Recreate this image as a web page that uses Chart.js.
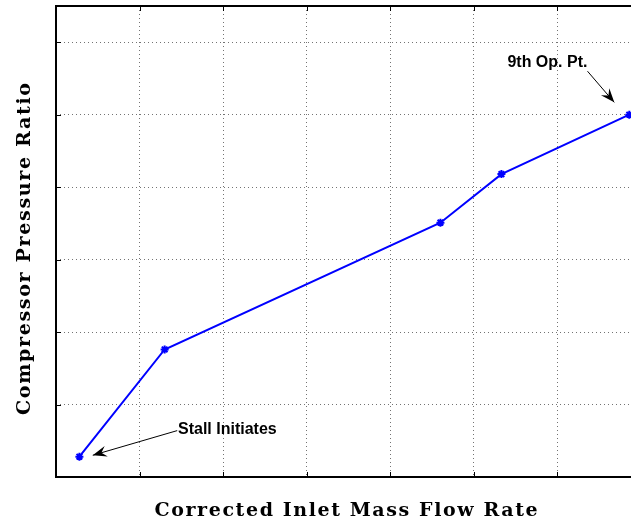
<!DOCTYPE html>
<html>
<head>
<meta charset="utf-8">
<script src="https://cdn.jsdelivr.net/npm/chart.js@4.4.1/dist/chart.umd.min.js"></script>
<style>
  html, body { margin: 0; padding: 0; background: #fff; overflow: hidden; }
  #wrap { width: 647px; height: 523px; }
</style>
</head>
<body>
<div id="wrap"><canvas id="compressorChart" width="647" height="523"></canvas></div>
<script>
// operating line of the compressor, from stall up to the 9th operating point
var flowRate = [0.28, 1.30, 4.60, 5.33, 6.86];
var pressureRatio = [0.28, 1.76, 3.51, 4.18, 5.00];

// callouts: label, label anchor (data units), arrow start, arrow tip
var noteText = ['Stall Initiates', '9th Op. Pt.'];
var noteAt = [[1.46, 0.65], [5.88, 5.72]];
var noteAlign = ['left', 'center'];
var arrowFrom = [[1.45, 0.64], [6.36, 5.60]];
var arrowTo = [[0.44, 0.30], [6.68, 5.17]];

var xTitle = 'Corrected Inlet Mass Flow Rate';
var yTitle = 'Compressor Pressure Ratio';

function drawArrowHead(ctx, x1, y1, x2, y2) {
    var ang = Math.atan2(y2 - y1, x2 - x1);
    var len = 14, half = 5.5, back = 9;
    ctx.save();
    ctx.translate(x2, y2);
    ctx.rotate(ang);
    ctx.beginPath();
    ctx.moveTo(0, 0);
    ctx.lineTo(-len, -half);
    ctx.lineTo(-back, 0);
    ctx.lineTo(-len, half);
    ctx.closePath();
    ctx.fillStyle = '#000';
    ctx.fill();
    ctx.restore();
}

// spread a title's letters so the whole string spans the given width
function spacedText(ctx, text, x, y, width) {
    ctx.letterSpacing = '0px';
    var w = ctx.measureText(text).width;
    ctx.letterSpacing = ((width - w) / (text.length - 1)).toFixed(2) + 'px';
    ctx.textAlign = 'left';
    ctx.fillText(text, x - width / 2, y);
    ctx.letterSpacing = '0px';
}

var framePlugin = {
    id: 'frame',
    afterDraw: function(chart) {
        var ctx = chart.ctx;
        var a = chart.chartArea;
        var xs = chart.scales.x, ys = chart.scales.y;

        ctx.save();
        // box edges (right edge runs past the canvas)
        ctx.strokeStyle = '#000';
        ctx.lineWidth = 2;
        ctx.beginPath();
        ctx.moveTo(a.right, a.top);
        ctx.lineTo(a.left, a.top);
        ctx.lineTo(a.left, a.bottom);
        ctx.lineTo(a.right, a.bottom);
        ctx.stroke();

        // inward tick marks
        ctx.lineWidth = 1;
        ctx.beginPath();
        xs.ticks.forEach(function(t) {
            var px = Math.round(xs.getPixelForValue(t.value)) + 0.5;
            ctx.moveTo(px, a.bottom); ctx.lineTo(px, a.bottom - 5);
            ctx.moveTo(px, a.top); ctx.lineTo(px, a.top + 5);
        });
        ys.ticks.forEach(function(t) {
            var py = Math.round(ys.getPixelForValue(t.value)) + 0.5;
            ctx.moveTo(a.left, py); ctx.lineTo(a.left + 5, py);
        });
        ctx.stroke();

        // callouts
        ctx.font = 'bold 16px "Liberation Sans", Arial, sans-serif';
        ctx.fillStyle = '#000';
        ctx.textBaseline = 'middle';
        for (var i = 0; i < noteText.length; i++) {
            ctx.textAlign = noteAlign[i];
            ctx.fillText(noteText[i], xs.getPixelForValue(noteAt[i][0]), ys.getPixelForValue(noteAt[i][1]));
            var x1 = xs.getPixelForValue(arrowFrom[i][0]), y1 = ys.getPixelForValue(arrowFrom[i][1]);
            var x2 = xs.getPixelForValue(arrowTo[i][0]), y2 = ys.getPixelForValue(arrowTo[i][1]);
            ctx.strokeStyle = '#000';
            ctx.lineWidth = 1;
            ctx.beginPath();
            ctx.moveTo(x1, y1);
            ctx.lineTo(x2, y2);
            ctx.stroke();
            drawArrowHead(ctx, x1, y1, x2, y2);
        }

        // axis titles
        ctx.textBaseline = 'alphabetic';
        ctx.font = 'bold 19px "DejaVu Serif", "Liberation Serif", serif';
        spacedText(ctx, xTitle, 346, 516, 383);
        ctx.translate(30, 249);
        ctx.rotate(-Math.PI / 2);
        spacedText(ctx, yTitle, 0, 0, 332);
        ctx.restore();
    }
};

var ctx = document.getElementById('compressorChart').getContext('2d');

var gridStyle = {
    color: 'rgba(0,0,0,0.55)',
    lineWidth: 1,
    drawTicks: false
};

var chart = new Chart(ctx, {
    type: 'line',
    data: {
        datasets: [{
            data: flowRate.map(function(x, i) { return { x: x, y: pressureRatio[i] }; }),
            borderColor: '#0000ff',
            backgroundColor: '#0000ff',
            borderWidth: 2,
            pointStyle: 'star',
            pointRadius: 4,
            pointBorderWidth: 2,
            tension: 0
        }]
    },
    options: {
        responsive: false,
        animation: false,
        layout: { padding: { left: 56, top: 6, right: 4, bottom: 46 } },
        plugins: { legend: { display: false }, tooltip: { enabled: false } },
        scales: {
            x: {
                type: 'linear',
                min: 0, max: 7,
                ticks: { display: false, stepSize: 1 },
                grid: gridStyle,
                border: { display: false, dash: [1, 3] }
            },
            y: {
                type: 'linear',
                min: 0, max: 6.5,
                ticks: { display: false, stepSize: 1 },
                grid: gridStyle,
                border: { display: false, dash: [1, 3] }
            }
        }
    },
    plugins: [framePlugin]
});
</script>
</body>
</html>
